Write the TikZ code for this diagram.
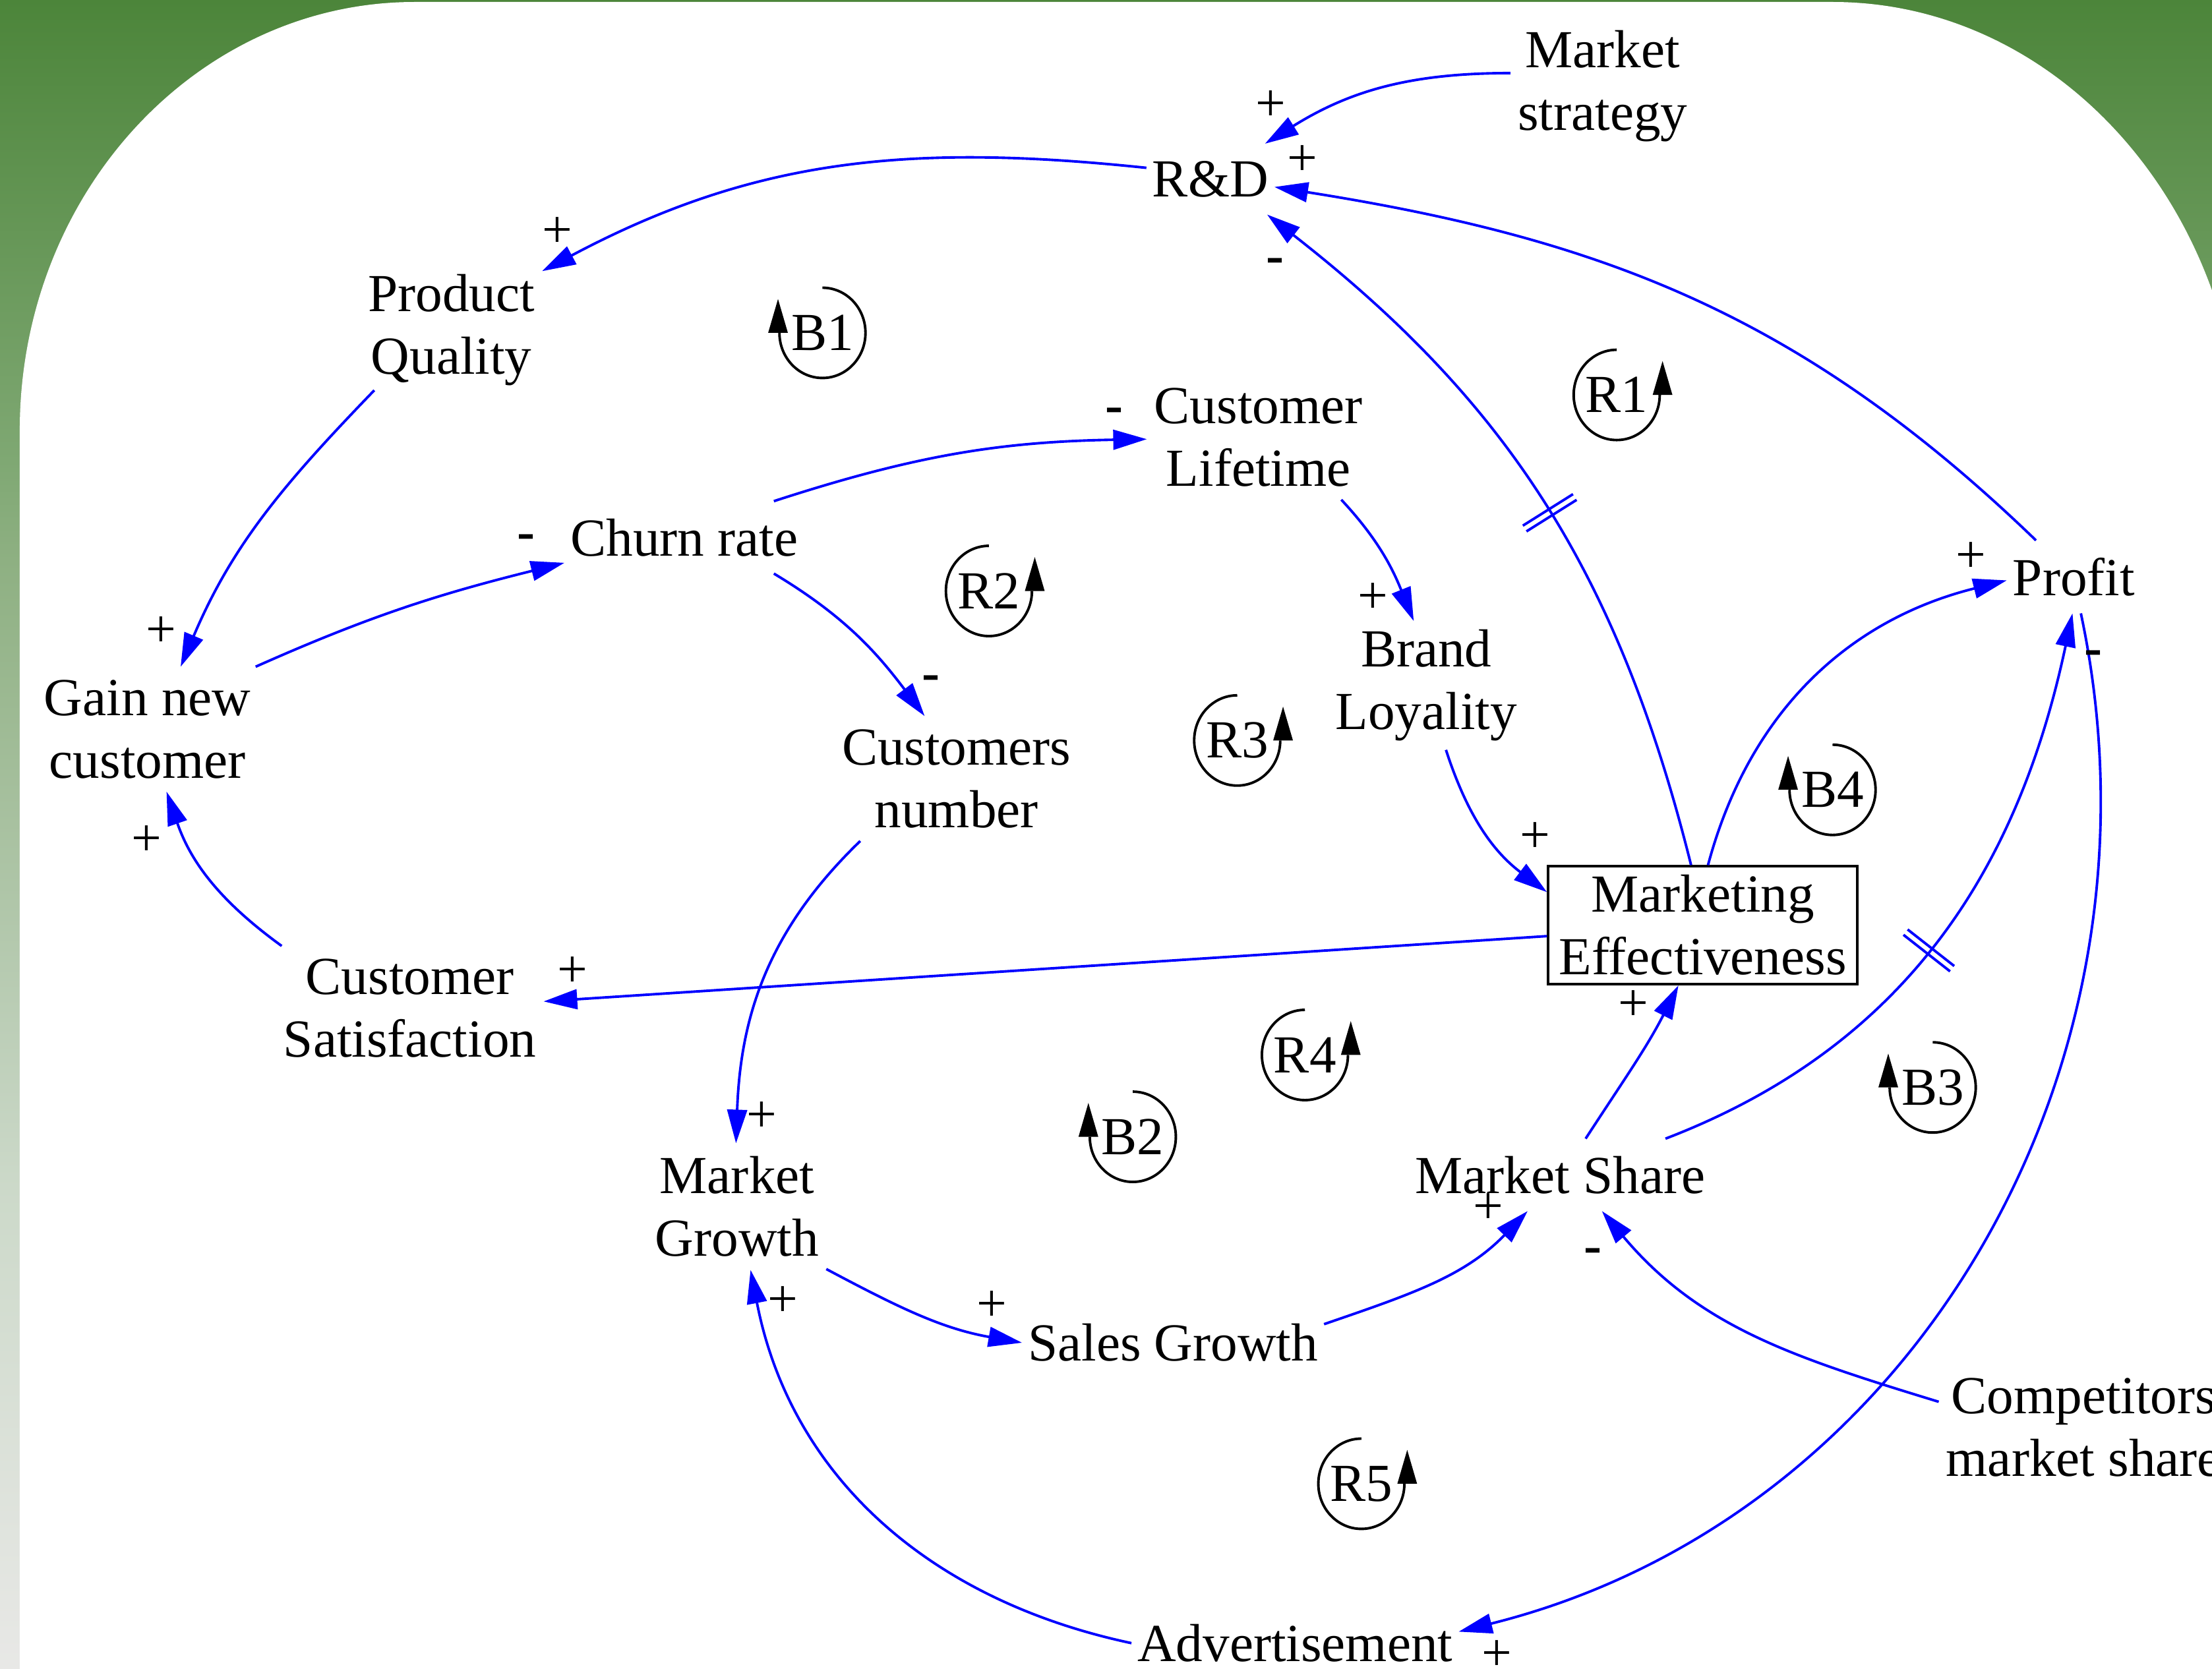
\documentclass[tikz,border=0pt]{standalone}
\usepackage{fontspec}
\setmainfont{Liberation Serif}
\usetikzlibrary{arrows.meta,decorations.markings}
\definecolor{bgA}{RGB}{232,232,230}
\definecolor{bgB}{RGB}{204,217,201}
\definecolor{bgC}{RGB}{194,210,190}
\definecolor{bgD}{RGB}{142,176,130}
\definecolor{bgE}{RGB}{127,168,115}
\definecolor{bgF}{RGB}{76,133,58}
\pgfdeclareverticalshading{bgshade}{100bp}{color(0bp)=(bgA); color(25bp)=(bgA); color(39.44bp)=(bgB); color(42.4bp)=(bgC); color(58.21bp)=(bgD); color(61.17bp)=(bgE); color(75bp)=(bgF); color(100bp)=(bgF)}
\newcommand\vfont{\fontsize{23.1pt}{27pt}\selectfont}
\newcommand\cldR[4]{%
  \node[lbl] (#1) at (#2,#3) {#4};
  \draw[loopline] (#2,#3) ++(0,32) arc[start angle=90, end angle=360, x radius=30.5, y radius=32];
  \fill[black] (#2,#3) ++(25.5,0) -- ++(14,0) -- ++(-7,24) -- cycle;
}
\newcommand\cldB[4]{%
  \node[lbl] (#1) at (#2,#3) {#4};
  \draw[loopline] (#2,#3) ++(0,32) arc[start angle=90, end angle=-180, x radius=30.5, y radius=32];
  \fill[black] (#2,#3) ++(-38.5,0) -- ++(14,0) -- ++(-7,24) -- cycle;
}
\begin{document}
\begin{tikzpicture}[x=0.021397cm,y=0.021397cm,
  vtext/.style={font=\vfont, align=center, inner xsep=2.4pt, inner ysep=7.3pt},
  vtextm/.style={font=\vfont, align=center, inner xsep=3pt, inner ysep=5.5pt},
  conn/.style={draw=blue, line width=1.1pt, -{Triangle[length=5.1mm,width=3mm]}},
  pol/.style={font=\vfont, inner sep=0pt},
  polm/.style={font=\vfont\bfseries, inner sep=0pt, anchor=base},
  lbl/.style={font=\vfont, inner sep=0pt},
  loopline/.style={draw=black, line width=1.1pt},
  delay/.style={postaction={decorate}, decoration={markings, mark=at position #1 with {\draw[blue, line width=1.1pt, arrows=-] (-2.4,-21) -- (-2.4,21) (2.4,-21) -- (2.4,21);}}}
]
\useasboundingbox (0,0) rectangle (1568,-1183);
\clip (0,0) rectangle (1568,-1183);
% background
\shade[shading=bgshade] (0,0) rectangle (1568,-1183);
\fill[white] (14,-1190) -- (14,-305.4) arc[start angle=180, end angle=90, x radius=280, y radius=304]
  -- (1299,-1.4) arc[start angle=90, end angle=0, x radius=290, y radius=327] -- (1600,-328.4) -- (1600,-1190) -- cycle;

% variables
\node[vtextm] (mstrat) at (1136,-61) {Market\\strategy};
\node[vtext] (rd) at (858,-127) {R\&D};
\node[vtextm, inner ysep=1.8pt] (pq) at (320,-234) {Product\\Quality};
\node[vtextm] (cl) at (892,-310) {Customer\\Lifetime};
\node[vtext] (churn) at (485,-381) {Churn rate};
\node[vtext] (profit) at (1470,-409) {Profit};
\node[vtextm, inner ysep=3.6pt] (bl) at (1011,-486) {Brand\\Loyality};
\node[vtextm] (gain) at (104.5,-517) {Gain new\\customer};
\node[vtextm] (cn) at (678,-552) {Customers\\number};
\node[draw=black, line width=1pt, font=\vfont, align=center, minimum width=133.45pt, minimum height=50.95pt, inner sep=0pt] (me) at (1207,-656) {Marketing\\Effectiveness};
\node[vtextm] (cs) at (290.5,-715) {Customer\\Satisfaction};
\node[vtextm] (mg) at (522.5,-855.5) {Market\\Growth};
\node[vtext] (mshare) at (1106,-833) {Market Share};
\node[vtext] (sg) at (831.5,-952) {Sales Growth};
\node[vtextm] (comp) at (1477,-1012) {Competitors\\market share};
\node[vtext] (adv) at (918,-1165) {Advertisement};

% connectors
\draw[conn] (mstrat.172) to[out=180,in=32] (rd.33);
\draw[conn] (profit.136) to[out=136,in=-9] (rd.-7);
\draw[conn,delay=0.48] (me.101) to[out=104,in=-38] (rd.-32);
\draw[conn] (rd.170) to[out=174,in=28] (pq.33);
\draw[conn] (pq.218) to[out=226,in=67] (gain.62);
\draw[conn] (gain.30) to[out=24,in=194] (churn.192);
\draw[conn] (churn.22) to[out=18,in=181] (cl.181);
\draw[conn] (churn.-22) to[out=-31,in=127] (cn.117);
\draw[conn] (cl.-37) to[out=-47,in=112] (bl.101);
\draw[conn] (bl.-73) to[out=-72,in=143] (me.168);
\draw[conn] (me.85) to[out=75,in=194] (profit.183);
\draw[conn,delay=0.47] (mshare.19) to[out=21,in=258] (profit.268);
\draw[conn] (profit.-79) to[out=-78,in=14] (adv.4);
\draw[conn] (me.184) -- (cs.3);
\draw[conn] (cs.154) to[out=144,in=-71] (gain.-73);
\draw[conn] (cn.213) to[out=224,in=88] (mg.91);
\draw[conn] (mg.-35) to[out=-28,in=170] (sg.180);
\draw[conn] (sg.7) to[out=19,in=226] (mshare.228);
\draw[conn] (mshare.55) to[out=57,in=243] (me.248);
\draw[conn] (comp.170) to[out=163,in=310] (mshare.-41);
\draw[conn] (adv.180) to[out=168,in=-79] (mg.-78);

% polarities
\node[pol] (p1) at (901,-75) {+};
\node[pol] (p2) at (923,-114) {+};
\node[polm] (p3) at (904,-193.7) {-};
\node[pol] (p4) at (395,-165) {+};
\node[pol] (p5) at (114,-448) {+};
\node[polm] (p6) at (373,-389.7) {-};
\node[polm] (p7) at (790,-299.7) {-};
\node[polm] (p8) at (660,-489.7) {-};
\node[pol] (p9) at (973,-424) {+};
\node[pol] (p10) at (1088,-594) {+};
\node[pol] (p11) at (1397,-395) {+};
\node[polm] (p12) at (1484,-471.7) {-};
\node[pol] (p13) at (1061,-1174) {+};
\node[pol] (p14) at (406,-689) {+};
\node[pol] (p15) at (104,-596) {+};
\node[pol] (p16) at (540,-792) {+};
\node[pol] (p17) at (703,-926) {+};
\node[pol] (p18) at (1055,-857) {+};
\node[pol] (p19) at (1158,-713) {+};
\node[polm] (p20) at (1129,-895.7) {-};
\node[pol] (p21) at (555,-923) {+};

% loop markers
\cldB{b1}{583}{-236}{B1}
\cldR{r1}{1146}{-280}{R1}
\cldR{r2}{701}{-419}{R2}
\cldR{r3}{877}{-525}{R3}
\cldB{b4}{1299}{-560}{B4}
\cldR{r4}{925}{-748}{R4}
\cldB{b2}{803}{-806}{B2}
\cldB{b3}{1370}{-771}{B3}
\cldR{r5}{965}{-1052}{R5}
\end{tikzpicture}
\end{document}
